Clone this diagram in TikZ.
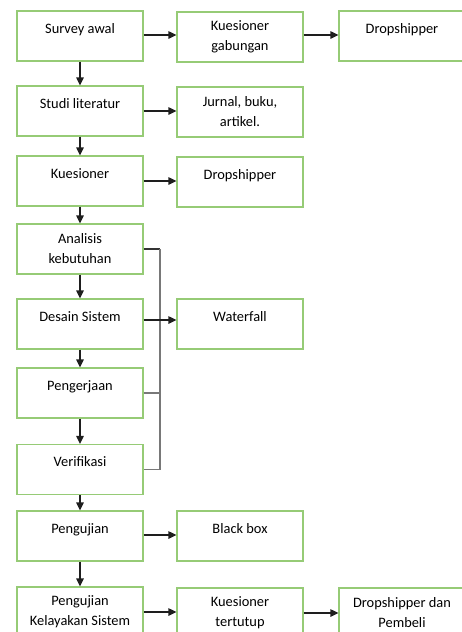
\documentclass[tikz,border=0pt]{standalone}
\usepackage{fontspec}
\setmainfont{Carlito}
\usetikzlibrary{arrows.meta}
\definecolor{boxgreen}{RGB}{150,203,118}
\definecolor{arrowgray}{RGB}{30,30,30}
\definecolor{bracketgray}{RGB}{120,120,120}
\tikzset{
  stepbox/.style={draw=boxgreen, line width=1.2pt, minimum width=126pt,
    minimum height=50pt, inner sep=0pt, align=center,
    font=\fontsize{14.4pt}{20pt}\selectfont, text=black},
  oneline/.style={text height=10pt, text depth=16pt},
  flow/.style={draw=arrowgray, line width=1.2pt,
    -{Triangle[length=8pt,width=7.5pt]}},
  bracket/.style={draw=bracketgray, line width=1.4pt}
}
\begin{document}
\begin{tikzpicture}[x=1pt,y=1pt]
\path[use as bounding box, clip] (0,0) rectangle (462,-632);

% main column
\node[stepbox, oneline] (sa) at (80,-36)    {Survey awal};
\node[stepbox, oneline] (sl) at (80,-111)   {Studi literatur};
\node[stepbox, oneline] (ku) at (80,-181)   {Kuesioner};
\node[stepbox]          (ak) at (80,-249)   {Analisis\\kebutuhan};
\node[stepbox, oneline] (ds) at (80,-324)   {Desain Sistem};
\node[stepbox, oneline] (pg) at (80,-393)   {Pengerjaan};
\node[stepbox, oneline] (vf) at (80,-469.5) {Verifikasi};
\node[stepbox, oneline] (pj) at (80,-536)   {Pengujian};
\node[stepbox]          (pk) at (80,-612)   {Pengujian\\Kelayakan Sistem};

% second column
\node[stepbox]          (kg) at (240,-37)   {Kuesioner\\gabungan};
\node[stepbox]          (jb) at (240,-112)  {Jurnal, buku,\\artikel.};
\node[stepbox, oneline] (d2) at (240,-182)  {Dropshipper};
\node[stepbox, oneline] (wf) at (240,-324)  {Waterfall};
\node[stepbox, oneline] (bb) at (240,-536)  {Black box};
\node[stepbox]          (kt) at (240,-613)  {Kuesioner\\tertutup};

% third column
\node[stepbox, oneline] (d1) at (402,-36)   {Dropshipper};
\node[stepbox]          (dp) at (402,-613)  {Dropshipper dan\\Pembeli};

% vertical flow
\draw[flow] (sa) -- (sl);
\draw[flow] (sl) -- (ku);
\draw[flow] (ku) -- (ak);
\draw[flow] (ak) -- (ds);
\draw[flow] (ds) -- (pg);
\draw[flow] (pg) -- (vf);
\draw[flow] (vf) -- (pj);
\draw[flow] (pj) -- (pk);

% horizontal flow
\draw[flow] ([yshift=1pt]sa.east) -- ([yshift=1pt]sa.east -| kg.west);
\draw[flow] ([yshift=2pt]kg.east) -- ([yshift=2pt]kg.east -| d1.west);
\draw[flow] (sl.east) -- (sl.east -| jb.west);
\draw[flow] (ku.east) -- (ku.east -| d2.west);
\draw[flow] ([yshift=1pt]pj.east) -- ([yshift=1pt]pj.east -| bb.west);
\draw[flow] (pk.east) -- (pk.east -| kt.west);
\draw[flow] (kt.east) -- (kt.east -| dp.west);

% waterfall bracket
\coordinate (bx) at (160,0);
\draw[bracket, draw=black!80] (ak.east) -- (ak.east -| bx);
\draw[bracket] (ak.east -| bx) -- (vf.east -| bx) -- (vf.east);
\draw[bracket] (pg.east) -- (pg.east -| bx);
\draw[flow] ([yshift=4pt]ds.east) -- ([yshift=4pt]ds.east -| wf.west);
\end{tikzpicture}
\end{document}
